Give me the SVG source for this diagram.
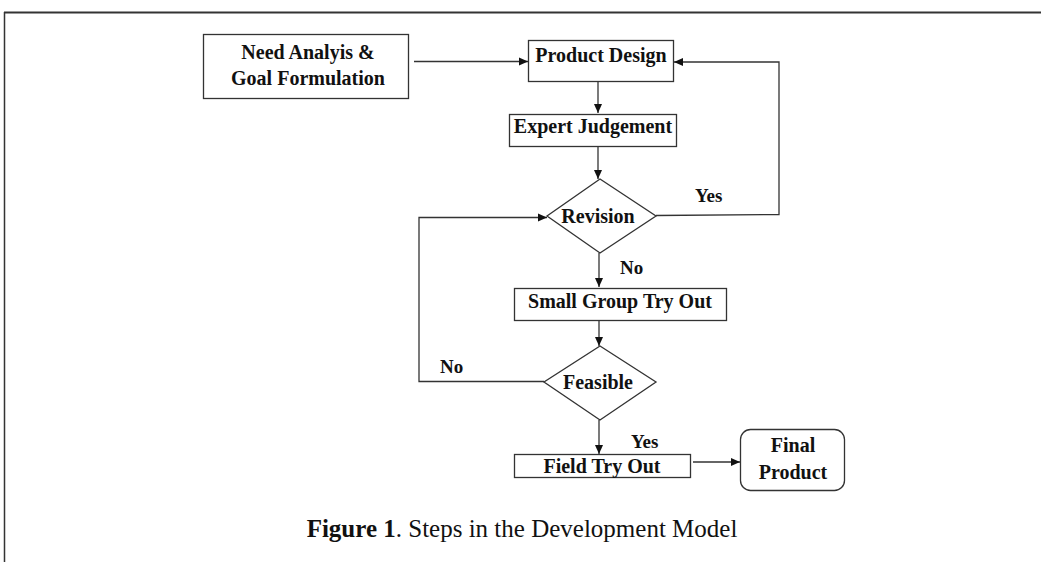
<svg xmlns="http://www.w3.org/2000/svg" width="1041" height="562" viewBox="0 0 1041 562">
<style>
.box{fill:#fff;stroke:#333;stroke-width:1.3}
.lbl{font-family:"Liberation Serif",serif;font-weight:bold;font-size:20px;fill:#111;text-anchor:middle}
.sm{font-family:"Liberation Serif",serif;font-weight:bold;font-size:19px;fill:#111}
.ln{fill:none;stroke:#333;stroke-width:1.3}
.cap{font-family:"Liberation Serif",serif;font-size:25px;fill:#111;text-anchor:middle}
</style>
<defs>
<marker id="ah" markerWidth="10" markerHeight="10" refX="9" refY="5" orient="auto" markerUnits="userSpaceOnUse">
<path d="M0,1 L9,5 L0,9 z" fill="#111"/>
</marker>
</defs>
<rect width="1041" height="562" fill="#fff"/>
<g id="frame">
<line x1="4" y1="12.5" x2="1041" y2="12.5" stroke="#333" stroke-width="2"/>
<line x1="4.5" y1="12" x2="4.5" y2="562" stroke="#333" stroke-width="1.5"/>
</g>
<g id="connectors">
<line class="ln" x1="414" y1="61.5" x2="528" y2="61.5" marker-end="url(#ah)"/>
<path class="ln" d="M656,215.5 L779,214.5 L779,62 L674,62" marker-end="url(#ah)"/>
<line class="ln" x1="598" y1="82" x2="598" y2="113" marker-end="url(#ah)"/>
<line class="ln" x1="598" y1="147" x2="598" y2="179" marker-end="url(#ah)"/>
<line class="ln" x1="599" y1="253" x2="599" y2="287" marker-end="url(#ah)"/>
<line class="ln" x1="599" y1="320" x2="599" y2="346" marker-end="url(#ah)"/>
<path class="ln" d="M544,381.5 L419,381.5 L419,217.5 L547,217.5" marker-end="url(#ah)"/>
<line class="ln" x1="599" y1="420" x2="599" y2="454" marker-end="url(#ah)"/>
<line class="ln" x1="693" y1="462" x2="740" y2="462" marker-end="url(#ah)"/>
<text class="sm" x="695" y="202">Yes</text>
<text class="sm" x="620" y="274">No</text>
<text class="sm" x="440" y="373">No</text>
<text class="sm" x="631" y="448">Yes</text>
</g>
<g id="need">
<rect class="box" x="203.5" y="34.5" width="205" height="64"/>
<text class="lbl" x="308" y="59">Need Analyis &amp;</text>
<text class="lbl" x="308" y="85">Goal Formulation</text>
</g>
<g id="design">
<rect class="box" x="528.5" y="40.5" width="145" height="41"/>
<text class="lbl" x="601" y="62">Product Design</text>
</g>
<g id="expert">
<rect class="box" x="509.5" y="114.5" width="167" height="32"/>
<text class="lbl" x="593" y="133">Expert Judgement</text>
</g>
<g id="revision">
<polygon class="box" points="600,179 656,216 600,253 547,216"/>
<text class="lbl" x="598" y="223">Revision</text>
</g>
<g id="smallgroup">
<rect class="box" x="514.5" y="288.5" width="212" height="32"/>
<text class="lbl" x="620" y="308">Small Group Try Out</text>
</g>
<g id="feasible">
<polygon class="box" points="600,346 656,382 600,420 544,382"/>
<text class="lbl" x="598" y="389">Feasible</text>
</g>
<g id="field">
<rect class="box" x="514.5" y="454.5" width="176" height="23"/>
<text class="lbl" x="602" y="473">Field Try Out</text>
</g>
<g id="final">
<rect class="box" x="740.5" y="429.5" width="104" height="61" rx="10"/>
<text class="lbl" x="793" y="452">Final</text>
<text class="lbl" x="793" y="479">Product</text>
</g>
<g id="caption">
<text class="cap" x="522" y="537"><tspan font-weight="bold">Figure 1</tspan>. Steps in the Development Model</text>
</g>
</svg>
